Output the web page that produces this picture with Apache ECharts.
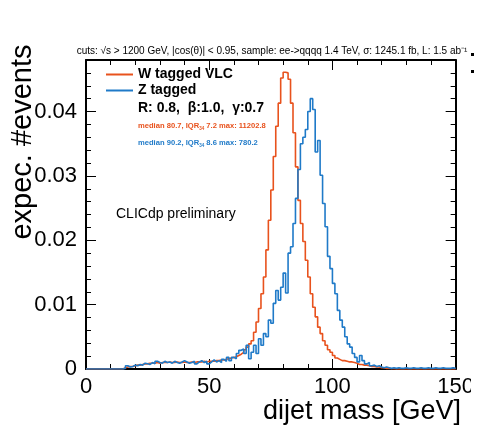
<!DOCTYPE html>
<html><head><meta charset="utf-8">
<script src="https://cdn.jsdelivr.net/npm/echarts@6/dist/echarts.min.js"></script>
<style>html,body{margin:0;padding:0;background:#fff}#c{width:477px;height:429px}</style>
</head><body><div id="c"></div>
<script>
// ---- data ----
const xMin = 0, xMax = 150, binWidth = 1;
const yMin = 0, yMax = 0.048;
const xTickInterval = 50;
const yTickInterval = 0.01;
const seriesNames = ['W tagged VLC', 'Z tagged'];
const paramText = 'R: 0.8,  β:1.0,  γ:0.7';
const statsW = ['median 80.7, IQR', '34', ' 7.2 max: 11202.8'];
const statsZ = ['median 90.2, IQR', '34', ' 8.6 max: 780.2'];
const cutsText = 'cuts: √s > 1200 GeV, |cos(θ)| < 0.95, sample: ee->qqqq 1.4 TeV, σ: 1245.1 fb, L: 1.5 ab⁻¹';
const xTitle = 'dijet mass [GeV]';
const yTitle = 'expec. #events';
const labelText = 'CLICdp preliminary';

// bin contents, bins [0,1), [1,2), ... [149,150)
const wTagged = [
 0,0,0,0,0,0,0,0,0,0, 0,0,0,0,0,0.0002,0.0003,0.0004,0.0004,0.0005,
 0.0006,0.0006,0.0007,0.0008,0.0008,0.0009,0.0009,0.0009,0.0010,0.0009,
 0.0010,0.0010,0.0010,0.0011,0.0010,0.0010,0.0011,0.0010,0.0010,0.0011,
 0.0010,0.0010,0.0011,0.0010,0.0011,0.0011,0.0011,0.0012,0.0011,0.0012,
 0.0012,0.0012,0.0013,0.0013,0.0014,0.0014,0.0015,0.0016,0.0017,0.0018,
 0.0019,0.0021,0.0023,0.0026,0.0030,0.0034,0.0039,0.0044,0.0057,0.0073,
 0.0094,0.0117,0.0143,0.0185,0.0231,0.0278,0.0330,0.0377,0.0413,0.0452,
 0.0461,0.0460,0.0450,0.0413,0.0367,0.0314,0.0262,0.0226,0.0198,0.0169,
 0.0143,0.0117,0.0096,0.0081,0.0065,0.0055,0.0044,0.0037,0.0030,0.0026,
 0.0021,0.0017,0.0015,0.0013,0.0013,0.0012,0.0011,0.0011,0.0010,0.0009,
 0.0007,0.0007,0.0006,0.0006,0.0005,0.0004,0.0004,0.0003,0.0003,0.0002,
 0.0002,0.0001,0.0001,0.00005,0.00005,0,0,0,0,0,
 0,0,0,0,0,0,0,0,0,0, 0,0,0,0,0,0,0,0,0,0
];
const zTagged = [
 0,0,0,0,0,0,0,0,0,0, 0,0,0,0,0,0.0001,0.0005,0.0003,0.0004,0.0006,
 0.0005,0.0007,0.0006,0.0009,0.0008,0.0007,0.0010,0.0008,0.0012,0.0010,
 0.0009,0.0012,0.0010,0.0011,0.0009,0.0012,0.0010,0.0009,0.0011,0.0013,
 0.0011,0.0009,0.0010,0.0012,0.0008,0.0011,0.0013,0.0010,0.0012,0.0008,
 0.0011,0.0014,0.0011,0.0013,0.0010,0.0015,0.0012,0.0018,0.0013,0.0018,
 0.0016,0.0024,0.0029,0.0031,0.0024,0.0037,0.0016,0.0026,0.0037,0.0024,
 0.0047,0.0037,0.0055,0.0050,0.0076,0.0071,0.0102,0.0122,0.0107,0.0127,
 0.0149,0.0118,0.0180,0.0190,0.0226,0.0265,0.0310,0.0350,0.0360,0.0372,
 0.0400,0.0420,0.0403,0.0337,0.0355,0.0301,0.0257,0.0221,0.0175,0.0156,
 0.0133,0.0117,0.0091,0.0076,0.0065,0.0050,0.0039,0.0034,0.0024,0.0018,
 0.0011,0.0021,0.0013,0.0008,0.0010,0.0005,0.0006,0.0004,0.0005,0.0003,
 0.0002,0.0003,0.0002,0.0001,0.0002,0.0001,0.0002,0.0001,0.0001,0.0002,
 0.0001,0.0001,0.0002,0.0001,0.0001,0.0002,0.0001,0.0001,0.0002,0.0001,
 0.0001,0.0002,0.0001,0.0001,0.0002,0.0001,0.0001,0.0001,0.0002,0.0001
];

// ---- chart ----
const colors = ['#e8521d', '#1f7ac8'];
const FONT = '"Liberation Sans", Arial, Helvetica, sans-serif';

function histData(vals) {
  const d = vals.map((v, i) => [xMin + i * binWidth, v]);
  d.push([xMin + vals.length * binWidth, vals[vals.length - 1]]);
  return d;
}

const tickCommon = {
  axisLine: { show: true, onZero: false, lineStyle: { color: '#000', width: 2 } },
  axisTick: { show: true, inside: true, length: 10, lineStyle: { color: '#000', width: 1 } },
  minorTick: { show: true, splitNumber: 5, length: 5, lineStyle: { color: '#000', width: 1 } },
  splitLine: { show: false },
  minorSplitLine: { show: false }
};

const chart = echarts.init(document.getElementById('c'), null, { renderer: 'canvas' });
chart.setOption({
  animation: false,
  backgroundColor: '#fff',
  textStyle: { fontFamily: FONT },
  grid: { left: 86, top: 60, width: 374, height: 309, containLabel: false },
  xAxis: [
    Object.assign({ type: 'value', min: xMin, max: xMax, interval: xTickInterval, position: 'bottom',
      axisLabel: { show: true, color: '#000', fontSize: 22, fontFamily: FONT, margin: 7 } }, tickCommon),
    Object.assign({ type: 'value', min: xMin, max: xMax, interval: xTickInterval, position: 'top',
      axisLabel: { show: false } }, tickCommon)
  ],
  yAxis: [
    Object.assign({ type: 'value', min: yMin, max: yMax, interval: yTickInterval, position: 'left',
      axisLabel: { show: true, color: '#000', fontSize: 22, fontFamily: FONT, margin: 9,
        formatter: v => (v === 0 ? '0' : v.toFixed(2)), showMaxLabel: false } }, tickCommon),
    Object.assign({ type: 'value', min: yMin, max: yMax, interval: yTickInterval, position: 'right',
      axisLabel: { show: false } }, tickCommon)
  ],
  legend: {
    left: 106, top: 67, padding: 0, orient: 'vertical', itemGap: 1, itemWidth: 27, itemHeight: 2,
    icon: 'rect', selectedMode: false,
    textStyle: { fontFamily: FONT, fontWeight: 'bold', fontSize: 14, color: '#000', lineHeight: 15 },
    data: seriesNames
  },
  series: [
    { name: seriesNames[0], type: 'line', step: 'end', showSymbol: false, symbol: 'none',
      data: histData(wTagged), lineStyle: { color: colors[0], width: 1.6 }, itemStyle: { color: colors[0] } },
    { name: seriesNames[1], type: 'line', step: 'end', showSymbol: false, symbol: 'none',
      data: histData(zTagged), lineStyle: { color: colors[1], width: 1.6 }, itemStyle: { color: colors[1] } }
  ],
  graphic: [
    { type: 'text', x: 272, y: 51, style: { text: cutsText, font: '10px ' + FONT, fill: '#000', textAlign: 'center', textVerticalAlign: 'middle' } },
    { type: 'text', x: 138, y: 108, style: { text: paramText, font: 'bold 14px ' + FONT, fill: '#000', textVerticalAlign: 'middle' } },
    { type: 'text', x: 138, y: 126, style: {
        text: '{a|' + statsW[0] + '}{s|' + statsW[1] + '}{a|' + statsW[2] + '}',
        rich: { a: { font: 'bold 7.6px ' + FONT, fill: colors[0], color: colors[0], lineHeight: 10 },
                s: { font: 'bold 4.5px ' + FONT, fill: colors[0], color: colors[0], lineHeight: 10, padding: [6, 0, 0, 0] } },
        textVerticalAlign: 'middle' } },
    { type: 'text', x: 138, y: 143, style: {
        text: '{a|' + statsZ[0] + '}{s|' + statsZ[1] + '}{a|' + statsZ[2] + '}',
        rich: { a: { font: 'bold 7.6px ' + FONT, fill: colors[1], color: colors[1], lineHeight: 10 },
                s: { font: 'bold 4.5px ' + FONT, fill: colors[1], color: colors[1], lineHeight: 10, padding: [6, 0, 0, 0] } },
        textVerticalAlign: 'middle' } },
    { type: 'text', x: 116, y: 214, style: { text: labelText, font: '14px ' + FONT, fill: '#000', textVerticalAlign: 'middle' } },
    { type: 'text', x: 461, y: 412, style: { text: xTitle, font: '27px ' + FONT, fill: '#000', textAlign: 'right', textVerticalAlign: 'middle' } },
    { type: 'text', x: 23, y: 142, rotation: Math.PI / 2, style: { text: yTitle, font: '29px ' + FONT, fill: '#000', textAlign: 'center', textVerticalAlign: 'middle' } },
    { type: 'rect', shape: { x: 471, y: 374, width: 6, height: 30 }, style: { fill: '#fff' }, z: 100 },
    { type: 'rect', shape: { x: 471, y: 53, width: 3, height: 3 }, style: { fill: '#000' }, z: 100 },
    { type: 'rect', shape: { x: 471, y: 70, width: 3, height: 3 }, style: { fill: '#000' }, z: 100 }
  ]
});
</script></body></html>
